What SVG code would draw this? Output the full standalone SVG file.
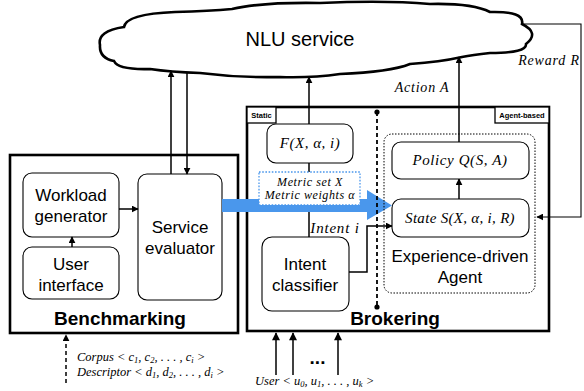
<svg xmlns="http://www.w3.org/2000/svg" width="584" height="391" viewBox="0 0 584 391">
  <style>
    .sans { font-family: "Liberation Sans", Arial, Helvetica, sans-serif; fill: #000; }
    .math { font-family: "Liberation Serif", "Times New Roman", serif; font-style: italic; fill: #000; }
    .outer { fill: #fff; stroke: #000; stroke-width: 2.6; }
    .inner { fill: #fff; stroke: #000; stroke-width: 1.1; }
    .tag { fill: #fff; stroke: #000; stroke-width: 1.3; }
    .wire { fill: none; stroke: #000; stroke-width: 1.5; }
    .thin { fill: none; stroke: #000; stroke-width: 1.1; }
    .label { font-size: 17px; text-anchor: middle; }
    .title { font-size: 19px; font-weight: bold; text-anchor: middle; }
    .small { font-size: 7.5px; font-weight: bold; text-anchor: middle; }
    .sub { font-size: 8.5px; }
  </style>
  <defs>
    <marker id="arrow" viewBox="0 0 10 10" refX="9" refY="5" markerWidth="7" markerHeight="7" markerUnits="userSpaceOnUse" orient="auto">
      <path d="M0,0 L10,5 L0,10 Z" fill="#000"/>
    </marker>
    <marker id="arrowBig" viewBox="0 0 10 10" refX="9" refY="5" markerWidth="9" markerHeight="8" markerUnits="userSpaceOnUse" orient="auto">
      <path d="M0,0 L10,5 L0,10 Z" fill="#000"/>
    </marker>
  </defs>

  <!-- cloud -->
  <g id="nlu-service">
    <path d="M100,45 Q97,31 124,27 Q126,14 175,12 Q210,11 232,9 Q262,2 320,3 Q385,0 430,4 Q472,3 490,12 Q525,11 522,24 Q540,33 526,44 Q527,53 490,53 Q472,55 462,57 Q440,62 410,64 Q390,72 340,74 Q312,78 280,77 Q240,78 200,73 Q170,72 150,69 Q118,70 114,61 Q99,58 100,45 Z" fill="#fff" stroke="#000" stroke-width="2.6"/>
    <text class="sans" x="300" y="46" font-size="20" text-anchor="middle">NLU service</text>
  </g>

  <!-- benchmarking block -->
  <g id="benchmarking">
    <rect class="outer" x="10" y="155" width="228" height="178"/>
    <text class="sans title" x="120" y="325">Benchmarking</text>
  </g>
  <g id="workload-generator">
    <rect class="inner" x="23" y="173" width="96" height="64" rx="9"/>
    <text class="sans label" x="71" y="201" font-size="16.5">Workload</text>
    <text class="sans label" x="71" y="222" font-size="16.5">generator</text>
  </g>
  <g id="user-interface">
    <rect class="inner" x="23" y="247" width="96" height="52" rx="9"/>
    <text class="sans label" x="71" y="270" font-size="16.5">User</text>
    <text class="sans label" x="71" y="291" font-size="16.5">interface</text>
  </g>
  <g id="service-evaluator">
    <rect class="inner" x="138" y="174" width="84" height="126" rx="9"/>
    <text class="sans label" x="180" y="233" font-size="16.5">Service</text>
    <text class="sans label" x="180" y="254" font-size="16.5">evaluator</text>
  </g>

  <!-- brokering block -->
  <g id="brokering">
    <rect class="outer" x="247" y="107" width="302" height="224"/>
    <rect class="tag" x="247" y="107" width="29" height="16"/>
    <text class="sans small" x="261.5" y="118">Static</text>
    <rect class="tag" x="495" y="107" width="54" height="16"/>
    <text class="sans small" x="522" y="118">Agent-based</text>
    <text class="sans title" x="395" y="325">Brokering</text>
  </g>

  <!-- connectors -->
  <g id="connectors">
    <line class="wire" x1="171" y1="174" x2="171" y2="71" marker-end="url(#arrow)"/>
    <line class="wire" x1="187" y1="72" x2="187" y2="174" marker-end="url(#arrow)"/>
    <line class="wire" x1="119" y1="209" x2="138" y2="209" marker-end="url(#arrow)"/>
    <line class="wire" x1="72" y1="247" x2="72" y2="237" marker-end="url(#arrow)"/>
    <line class="wire" x1="309" y1="124" x2="309" y2="77" marker-end="url(#arrow)"/>
    <line class="wire" x1="309" y1="163" x2="309" y2="237"/>
    <line class="wire" x1="459" y1="142" x2="459" y2="57" marker-end="url(#arrow)"/>
    <line class="wire" x1="459" y1="199" x2="459" y2="179" marker-end="url(#arrow)"/>
    <polyline class="wire" points="349,272 367,272 367,226 392,226" marker-end="url(#arrow)"/>
    <polyline class="thin" points="522,24 581,24 581,217 537,217" marker-end="url(#arrow)"/>
    <line class="wire" x1="66" y1="383" x2="66" y2="335" stroke-dasharray="4 3" marker-end="url(#arrow)"/>
    <line class="wire" x1="276" y1="375" x2="276" y2="333" marker-end="url(#arrowBig)"/>
    <line class="wire" x1="293" y1="375" x2="293" y2="333" marker-end="url(#arrowBig)"/>
    <line class="wire" x1="338" y1="375" x2="338" y2="333" marker-end="url(#arrowBig)"/>
  </g>

  <!-- metric hand-off from the evaluator to the broker -->
  <g id="metric-flow">
    <path d="M222,199 H367 V190 L392,205.5 L367,220 V212 H222 Z" fill="#4a97ec"/>
  </g>
  <g id="metric-spec">
    <rect x="259" y="172" width="101" height="33" fill="#fff" stroke="#4a97ec" stroke-width="1.3" stroke-dasharray="1.6 1.6"/>
    <text class="math" x="310" y="185.5" font-size="12" text-anchor="middle" letter-spacing="0.6">Metric set X</text>
    <text class="math" x="310" y="198.5" font-size="12" text-anchor="middle" letter-spacing="0.6">Metric weights α</text>
  </g>

  <!-- static / agent-based split -->
  <g id="split">
    <line x1="377" y1="112" x2="377" y2="307" stroke="#000" stroke-width="1.8" stroke-dasharray="4 3"/>
    <circle cx="377" cy="112" r="2.6" fill="#000"/>
    <circle cx="377" cy="307" r="2.6" fill="#000"/>
  </g>

  <g id="scoring-function">
    <rect class="inner" x="267" y="124" width="86" height="39" rx="9"/>
    <text class="math" x="310" y="148" font-size="15" text-anchor="middle" letter-spacing="0.5">F(X, α, i)</text>
  </g>
  <g id="intent-label">
    <text class="math" x="335" y="233" font-size="15" text-anchor="middle" letter-spacing="0.8">Intent i</text>
  </g>
  <g id="intent-classifier">
    <rect class="inner" x="262" y="237" width="87" height="74" rx="10"/>
    <text class="sans label" x="305" y="270">Intent</text>
    <text class="sans label" x="305" y="291">classifier</text>
  </g>

  <g id="agent">
    <rect x="384" y="134" width="151" height="159" rx="8" fill="none" stroke="#000" stroke-width="1" stroke-dasharray="1.5 1.5"/>
    <text class="sans label" x="460" y="262">Experience-driven</text>
    <text class="sans label" x="460" y="283">Agent</text>
  </g>
  <g id="policy">
    <rect class="inner" x="392" y="142" width="137" height="37" rx="9"/>
    <text class="math" x="460" y="165" font-size="15" text-anchor="middle" letter-spacing="0.6">Policy Q(S, A)</text>
  </g>
  <g id="state">
    <rect class="inner" x="392" y="199" width="137" height="38" rx="9"/>
    <text class="math" x="460" y="223" font-size="15" text-anchor="middle" letter-spacing="0.3">State S(X, α, i, R)</text>
  </g>

  <!-- edge labels -->
  <g id="edge-labels">
    <text class="math" x="422" y="92" font-size="14" text-anchor="middle" letter-spacing="0.8">Action A</text>
    <text class="math" x="549" y="65" font-size="14" text-anchor="middle" letter-spacing="0.8">Reward R</text>
    <text class="math" x="77" y="361" font-size="12.5">Corpus &lt; c<tspan class="sub" baseline-shift="-2">1</tspan>, c<tspan class="sub" baseline-shift="-2">2</tspan>, . . . , c<tspan class="sub" baseline-shift="-2">i</tspan> &gt;</text>
    <text class="math" x="77" y="376" font-size="12.5">Descriptor &lt; d<tspan class="sub" baseline-shift="-2">1</tspan>, d<tspan class="sub" baseline-shift="-2">2</tspan>, . . . , d<tspan class="sub" baseline-shift="-2">i</tspan> &gt;</text>
    <text class="sans" x="317.5" y="364" font-size="19" font-weight="bold" text-anchor="middle">...</text>
    <text class="math" x="255" y="385" font-size="12.5">User &lt; u<tspan class="sub" baseline-shift="-2">0</tspan>, u<tspan class="sub" baseline-shift="-2">1</tspan>, . . . , u<tspan class="sub" baseline-shift="-2">k</tspan> &gt;</text>
  </g>
</svg>
